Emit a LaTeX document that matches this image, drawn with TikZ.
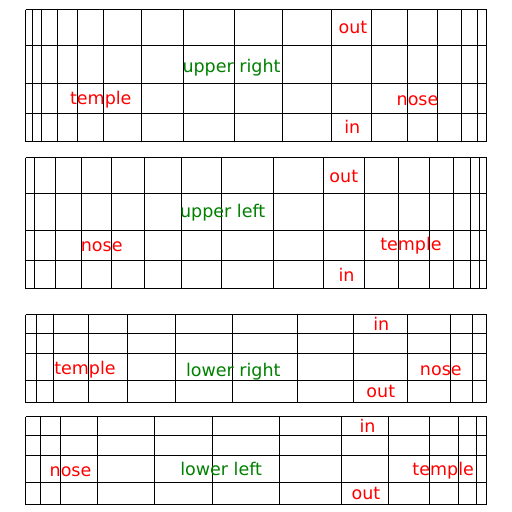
\documentclass[tikz,border=0pt]{standalone}
\usepackage{fontspec}
\setmainfont{DejaVu Sans}
\usepackage{tikz}
\usepackage{xcolor}

\begin{document}
\begin{tikzpicture}[x=1pt, y=-1pt,
      gridline/.style={line width=1pt},
      label part/.style={text=red, inner sep=0pt, font=\fontsize{17.5}{20}\selectfont},
      label side/.style={text=green!50!black, inner sep=0pt, font=\fontsize{17.5}{20}\selectfont}]
      \useasboundingbox (0,0) rectangle (512,512);
      % upper right
      \foreach \x in {25.5,32.5,41.5,57.5,77.5,103.5,141.5,183.5,234.5,282.5,331.5,371.5,407.5,437.5,461.5,477.5,486.5}
         \draw[gridline] (\x,9.5) -- (\x,141.5);
      \foreach \y in {9.5,45.5,83.5,113.5,141.5}
         \draw[gridline] (25.5,\y) -- (486.5,\y);
      \node[label part] (ur-out) at (353,27.2) {out};
      \node[label side] (ur-side) at (231.5,67.3) {upper right};
      \node[label part] (ur-temple) at (100.8,99.7) {temple};
      \node[label part] (ur-nose) at (417.5,100.3) {nose};
      \node[label part] (ur-in) at (352.3,127.2) {in};
      % upper left
      \foreach \x in {25.5,34.5,55.5,81.5,111.5,144.5,181.5,221.5,273.5,323.5,364.5,398.5,429.5,453.5,470.5,479.5,486.5}
         \draw[gridline] (\x,157.5) -- (\x,288.5);
      \foreach \y in {157.5,193.5,230.5,260.5,288.5}
         \draw[gridline] (25.5,\y) -- (486.5,\y);
      \node[label part] (ul-out) at (343.8,176.2) {out};
      \node[label side] (ul-side) at (222.7,212.5) {upper left};
      \node[label part] (ul-nose) at (101.7,247) {nose};
      \node[label part] (ul-temple) at (411,245.3) {temple};
      \node[label part] (ul-in) at (346.5,274.7) {in};
      % lower right
      \foreach \x in {25.5,36.5,53.5,88.5,127.5,175.5,232.5,297.5,353.5,407.5,450.5,472.5,486.5}
         \draw[gridline] (\x,314.5) -- (\x,402.5);
      \foreach \y in {314.5,333.5,353.5,380.5,402.5}
         \draw[gridline] (25.5,\y) -- (486.5,\y);
      \node[label part] (lr-in) at (381.3,323.5) {in};
      \node[label part] (lr-temple) at (85,369.7) {temple};
      \node[label side] (lr-side) at (233.3,371.2) {lower right};
      \node[label part] (lr-nose) at (440.8,370.3) {nose};
      \node[label part] (lr-out) at (380.8,391.8) {out};
      % lower left
      \foreach \x in {25.5,40.5,60.5,97.5,154.5,212.5,279.5,341.5,388.5,429.5,458.5,476.5,486.5}
         \draw[gridline] (\x,416.5) -- (\x,504.5);
      \foreach \y in {416.5,435.5,455.5,482.5,504.5}
         \draw[gridline] (25.5,\y) -- (486.5,\y);
      \node[label part] (ll-in) at (367.5,426.3) {in};
      \node[label part] (ll-nose) at (70.5,471.3) {nose};
      \node[label side] (ll-side) at (221.2,468.7) {lower left};
      \node[label part] (ll-temple) at (443.2,470.8) {temple};
      \node[label part] (ll-out) at (366,493.8) {out};
   \end{tikzpicture}
\end{document}
